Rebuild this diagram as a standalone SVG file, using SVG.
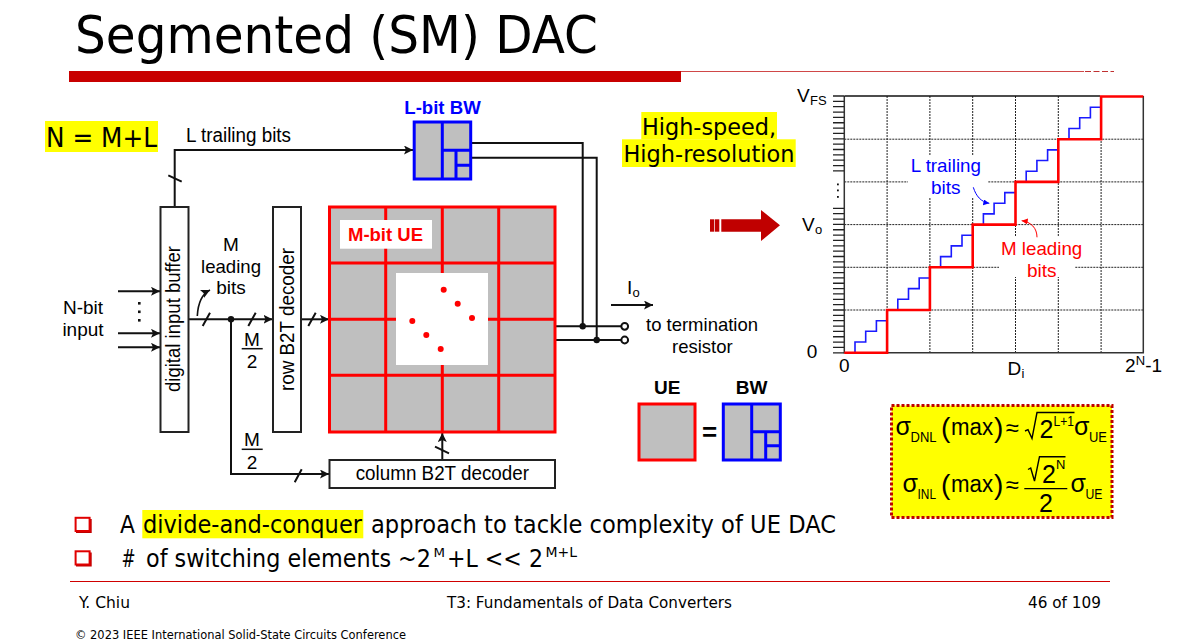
<svg xmlns="http://www.w3.org/2000/svg" width="1183" height="644" viewBox="0 0 1183 644">
<style>
.v{font-family:"DejaVu Sans","Liberation Sans",sans-serif;fill:#000}
.a{font-family:"Liberation Sans",Arial,sans-serif;fill:#000}
.b{font-weight:bold}
.c{text-anchor:middle}
.w{fill:#fff;stroke:#222;stroke-width:2}
.cell{fill:#bfbfbf;stroke:#f00;stroke-width:3}
.red{fill:none;stroke:#f00;stroke-width:3}
.blue{fill:none;stroke:#00f;stroke-width:3}
.wire{fill:none;stroke:#111;stroke-width:2}
.thin{fill:none;stroke:#111;stroke-width:1.6}
.grid{fill:none;stroke:#222;stroke-width:1;stroke-dasharray:2 1}
</style>
<defs>
<marker id="ah" markerUnits="userSpaceOnUse" markerWidth="10" markerHeight="10" refX="9" refY="4.5" orient="auto"><path d="M0 0L9 4.5L0 9L2 4.5Z" fill="#111"/></marker>
<marker id="ahb" markerUnits="userSpaceOnUse" markerWidth="7" markerHeight="7" refX="6" refY="3" orient="auto"><path d="M0 0L6 3L0 6Z" fill="#00f"/></marker>
<marker id="ahr" markerUnits="userSpaceOnUse" markerWidth="7" markerHeight="7" refX="6" refY="3" orient="auto"><path d="M0 0L6 3L0 6Z" fill="#f00"/></marker>
</defs>
<rect width="1183" height="644" fill="#fff"/>

<g id="header">
<text class="v" x="75" y="53" font-size="51" textLength="523" lengthAdjust="spacingAndGlyphs">Segmented (SM) DAC</text>
<rect x="69" y="71" width="612" height="11" fill="#c80000"/>
<path d="M681 71.5H1084" stroke="#d04848" stroke-width="1.2"/>
<path d="M1085 71.5H1114" stroke="#c03030" stroke-width="1.2" stroke-dasharray="6 2.5"/>
</g>

<g id="equation-n">
<rect x="45" y="121" width="113" height="31" fill="#ff0"/>
<text class="v" x="46" y="147" font-size="27" textLength="111" lengthAdjust="spacingAndGlyphs">N = M+L</text>
</g>

<g id="l-trailing-label">
<text class="a" x="186" y="141.7" font-size="19.5" textLength="105" lengthAdjust="spacingAndGlyphs">L trailing bits</text>
</g>

<g id="connectors">
<path class="wire" d="M174.7 207V150H413" marker-end="url(#ah)"/>
<path class="wire" d="M118 291.3H160" marker-end="url(#ah)"/>
<path class="wire" d="M118 333.3H160" marker-end="url(#ah)"/>
<path class="wire" d="M118 347.3H160" marker-end="url(#ah)"/>
<path class="wire" d="M189 319.3H272.5" marker-end="url(#ah)"/>
<path class="wire" d="M301 319.3H329" marker-end="url(#ah)"/>
<path class="wire" d="M231 319.3V474H329" marker-end="url(#ah)"/>
<path class="wire" d="M442.3 460V433" marker-end="url(#ah)"/>
<path class="wire" d="M168.3 175.3L181.7 181.7M202.7 326L210 312.7M248.3 326L255.7 312.7M308.3 326L315.7 312.7M294.7 482.3L301.7 469.3M435 446.7L449 453.3"/>
<circle cx="231" cy="319.3" r="3.2" fill="#111"/>
<path class="thin" d="M197.3 316C198 303 202 294 210 290" marker-end="url(#ah)"/>
<path class="wire" d="M471 143H582.7V326.3"/>
<path class="wire" d="M471 157.7H596.7V340"/>
<path class="wire" d="M555 326.3H621M555 340H621"/>
<circle cx="582.7" cy="326.3" r="3.2" fill="#111"/>
<circle cx="596.7" cy="340" r="3.2" fill="#111"/>
<circle cx="624.7" cy="326.3" r="3.4" fill="#fff" stroke="#111" stroke-width="2"/>
<circle cx="624.7" cy="340" r="3.4" fill="#fff" stroke="#111" stroke-width="2"/>
<path class="wire" d="M611 305H653" marker-end="url(#ah)"/>
</g>

<g id="n-bit-input">
<text class="a c" x="83" y="314" font-size="19">N-bit</text>
<text class="a c" x="83" y="336" font-size="19">input</text>
<rect x="138" y="302" width="2.6" height="2.6" fill="#111"/>
<rect x="138" y="310.5" width="2.6" height="2.6" fill="#111"/>
<rect x="138" y="319" width="2.6" height="2.6" fill="#111"/>
</g>

<g id="digital-input-buffer">
<rect class="w" x="160.5" y="207" width="28" height="225"/>
<text class="a" font-size="20" transform="translate(180 392) rotate(-90)" textLength="146" lengthAdjust="spacingAndGlyphs">digital input buffer</text>
</g>

<g id="m-leading-bits">
<text class="a c" x="231" y="251" font-size="19">M</text>
<text class="a c" x="231" y="272.7" font-size="19" textLength="60" lengthAdjust="spacingAndGlyphs">leading</text>
<text class="a c" x="231" y="294" font-size="19">bits</text>
</g>

<g id="m-half-row">
<text class="a c" x="252" y="345.5" font-size="19">M</text>
<path d="M241.7 348.7H262.7" stroke="#111" stroke-width="1.5"/>
<text class="a c" x="252" y="368" font-size="19">2</text>
</g>
<g id="m-half-col">
<text class="a c" x="252" y="446" font-size="19">M</text>
<path d="M241.7 449.3H262.7" stroke="#111" stroke-width="1.5"/>
<text class="a c" x="252" y="468.5" font-size="19">2</text>
</g>

<g id="row-decoder">
<rect class="w" x="273" y="207" width="28" height="225"/>
<text class="a" font-size="20" transform="translate(294 391) rotate(-90)" textLength="143" lengthAdjust="spacingAndGlyphs">row B2T decoder</text>
</g>

<g id="column-decoder">
<rect class="w" x="329.5" y="460" width="225.5" height="28"/>
<text class="a" x="355.7" y="480" font-size="20" textLength="173.3" lengthAdjust="spacingAndGlyphs">column B2T decoder</text>
</g>

<g id="m-bit-ue-array">
<rect class="cell" x="329.5" y="207" width="225.5" height="225"/>
<path class="red" d="M385.7 207V432M442.3 207V432M498.7 207V432M329.5 263H555M329.5 319.3H555M329.5 375.3H555"/>
<rect x="340" y="220" width="92" height="28.7" fill="#fff"/>
<text class="a b" x="348" y="240.7" font-size="19" style="fill:#f00" textLength="75" lengthAdjust="spacingAndGlyphs">M-bit UE</text>
<rect x="396" y="273" width="92" height="92" fill="#fff"/>
<g fill="#f00">
<circle cx="443.7" cy="289.7" r="3"/><circle cx="457.7" cy="303.7" r="3"/><circle cx="472" cy="318" r="3"/>
<circle cx="412.3" cy="321" r="3"/><circle cx="426.3" cy="335" r="3"/><circle cx="440.7" cy="349" r="3"/>
</g>
</g>

<g id="l-bit-bw">
<text class="a b" x="404.3" y="114" font-size="19" style="fill:#00f" textLength="76.4" lengthAdjust="spacingAndGlyphs">L-bit BW</text>
<rect x="414.2" y="122" width="56.5" height="57" fill="#bfbfbf" stroke="#00f" stroke-width="3"/>
<path class="blue" d="M442.3 122V179M442.3 150.3H470.7M456 150.3V179M456 165.3H470.7"/>
</g>

<g id="high-speed">
<rect x="641.3" y="112" width="135.7" height="27.4" fill="#ff0"/>
<rect x="622" y="139.3" width="173.7" height="27.7" fill="#ff0"/>
<text class="v" x="642" y="135" font-size="23" textLength="134" lengthAdjust="spacingAndGlyphs">High-speed,</text>
<text class="v" x="623.5" y="161.7" font-size="23" textLength="171" lengthAdjust="spacingAndGlyphs">High-resolution</text>
</g>

<g id="block-arrow" fill="#c00000">
<rect x="710" y="219.3" width="4.3" height="12.4"/>
<rect x="715" y="219.3" width="4.3" height="12.4"/>
<path d="M721.3 219.3H761V210L780 225.3L761 241V231.7H721.3Z"/>
</g>

<g id="output-label">
<text class="a" x="627" y="294" font-size="19">I</text>
<text class="a" x="632.5" y="297" font-size="13">o</text>
<text class="a" x="646" y="330.7" font-size="19" textLength="112" lengthAdjust="spacingAndGlyphs">to termination</text>
<text class="a" x="672" y="353.3" font-size="19" textLength="60.7" lengthAdjust="spacingAndGlyphs">resistor</text>
</g>

<g id="ue-equals-bw">
<text class="a b c" x="667.3" y="394" font-size="19">UE</text>
<text class="a b c" x="751.7" y="394" font-size="19">BW</text>
<rect class="cell" x="639" y="404" width="56" height="56"/>
<text class="a b c" x="709.5" y="441" font-size="26">=</text>
<rect x="723.3" y="404" width="57" height="56" fill="#bfbfbf" stroke="#00f" stroke-width="3"/>
<path class="blue" d="M751.7 404V460M751.7 431.7H780.3M765.7 431.7V460M765.7 445.7H780.3"/>
</g>

<g id="transfer-plot">
<path class="grid" d="M887.1 96V352.7M929.9 96V352.7M972.7 96V352.7M1015.5 96V352.7M1058.3 96V352.7M1101.1 96V352.7M844.3 139.2H1143M844.3 181.9H1143M844.3 224.6H1143M844.3 267.3H1143M844.3 310H1143"/>
<rect x="908" y="156" width="80" height="41" fill="#fff"/>
<rect x="999" y="237" width="76" height="40" fill="#fff"/>
<path fill="none" stroke="#333" stroke-width="1.5" d="M844.3 96V352.7H1143.3V96"/>
<path fill="none" stroke="#111" stroke-width="1.5" d="M844.3 96H1100"/>
<path fill="none" stroke="#222" stroke-width="1.3" d="M833 96H844M833 101.35H844M833 106.7H844M833 112.05H844M833 117.4H844M833 122.75H844M833 128.1H844M833 133.45H844M833 138.8H844M833 144.15H844M833 149.5H844M833 154.85H844M833 160.2H844M833 165.55H844M833 170.9H844M833 208.35H844M833 213.7H844M833 219.05H844M833 224.4H844M833 229.75H844M833 235.1H844M833 240.45H844M833 245.8H844M833 251.15H844M833 256.5H844M833 261.85H844M833 267.2H844M833 272.55H844M833 277.9H844M833 283.25H844M833 288.6H844M833 293.95H844M833 299.3H844M833 304.65H844M833 310H844M833 315.35H844M833 320.7H844M833 326.05H844M833 331.4H844M833 336.75H844M833 342.1H844M833 347.45H844M833 352.8H844"/>
<rect x="837" y="183.5" width="1.8" height="1.8" fill="#111"/>
<rect x="837" y="189.5" width="1.8" height="1.8" fill="#111"/>
<rect x="837" y="196" width="1.8" height="1.8" fill="#111"/>
<path fill="none" stroke="#1a1aff" stroke-width="1.6" d="M855 352.7V342H865.7V331.3H876.4V320.7H887.1M897.8 310V299.3H908.5V288.6H919.2V278H929.9M940.6 267.3V256.6H951.3V245.9H962V235.3H972.7M983.4 224.6V213.9H994.1V203.2H1004.8V192.6H1015.5M1026.2 181.9V171.2H1036.9V160.5H1047.6V149.9H1058.3M1069 139.2V128.5H1079.7V117.8H1090.4V107.2H1101.1"/>
<path fill="none" stroke="#f00" stroke-width="2.6" d="M844.3 352.7H887.1V310H929.9V267.3H972.7V224.6H1015.5V181.9H1058.3V139.2H1101.1V96.5H1143.3"/>
<text class="a" x="797" y="102" font-size="19">V</text>
<text class="a" x="810" y="104.5" font-size="13">FS</text>
<text class="a" x="802" y="231" font-size="19">V</text>
<text class="a" x="815" y="234" font-size="13">o</text>
<text class="a" x="806.7" y="358" font-size="19">0</text>
<text class="a" x="839" y="371.7" font-size="19">0</text>
<text class="a" x="1007.5" y="375" font-size="19">D</text>
<text class="a" x="1021.5" y="378" font-size="13">i</text>
<text class="a" x="1125" y="371.7" font-size="19">2</text>
<text class="a" x="1135.8" y="365" font-size="13">N</text>
<text class="a" x="1145.3" y="371.7" font-size="19">-1</text>
<text class="a" x="910.7" y="171.7" font-size="19" style="fill:#00f" textLength="70.3" lengthAdjust="spacingAndGlyphs">L trailing</text>
<text class="a c" x="945.7" y="194" font-size="19" style="fill:#00f">bits</text>
<path fill="none" stroke="#00f" stroke-width="1" d="M973.3 187.3C976 196 981 202 989.3 203.3" marker-end="url(#ahb)"/>
<text class="a" x="1001" y="255" font-size="19" style="fill:#f00" textLength="81.3" lengthAdjust="spacingAndGlyphs">M leading</text>
<text class="a c" x="1041.7" y="277.3" font-size="19" style="fill:#f00">bits</text>
<path fill="none" stroke="#f00" stroke-width="1" d="M1037 237.3C1037 228 1031 222 1021.7 220.7" marker-end="url(#ahr)"/>
</g>

<g id="formula-box">
<rect x="891.5" y="405.5" width="220.5" height="112" fill="#ff0" stroke="#c00000" stroke-width="3" stroke-dasharray="3 2"/>
<text class="a" x="895.5" y="435" font-size="25">σ</text>
<text class="a" x="910.5" y="441.5" font-size="14" textLength="26" lengthAdjust="spacingAndGlyphs">DNL</text>
<text class="a" x="941" y="437" font-size="28">(</text>
<text class="a" x="951" y="435" font-size="23" textLength="42" lengthAdjust="spacingAndGlyphs">max</text>
<text class="a" x="994" y="437" font-size="28">)</text>
<text class="a" x="1005.5" y="436" font-size="24">≈</text>
<path fill="none" stroke="#000" stroke-width="1.4" d="M1025 431L1028 429.7L1032 438.5L1037 412.5H1074.5"/>
<text class="a" x="1039.5" y="437.5" font-size="25">2</text>
<text class="a" x="1053.5" y="425.5" font-size="14" textLength="20.5" lengthAdjust="spacingAndGlyphs">L+1</text>
<text class="a" x="1074" y="435" font-size="25">σ</text>
<text class="a" x="1089" y="441.5" font-size="14" textLength="18" lengthAdjust="spacingAndGlyphs">UE</text>
<text class="a" x="902.5" y="491.7" font-size="25">σ</text>
<text class="a" x="917.5" y="498.5" font-size="14" textLength="18.5" lengthAdjust="spacingAndGlyphs">INL</text>
<text class="a" x="941" y="493.5" font-size="28">(</text>
<text class="a" x="951" y="491.7" font-size="23" textLength="42" lengthAdjust="spacingAndGlyphs">max</text>
<text class="a" x="994" y="493.5" font-size="28">)</text>
<text class="a" x="1005.5" y="492.5" font-size="24">≈</text>
<path fill="none" stroke="#000" stroke-width="1.4" d="M1028 469.5L1030.7 468L1034.5 481L1039.5 456.7H1065.5"/>
<text class="a" x="1042" y="483" font-size="25">2</text>
<text class="a" x="1056" y="469" font-size="13">N</text>
<path d="M1024.3 488.7H1067.3" stroke="#000" stroke-width="1.3"/>
<text class="a" x="1039" y="512" font-size="25">2</text>
<text class="a" x="1070.5" y="491.7" font-size="25">σ</text>
<text class="a" x="1085.5" y="498.5" font-size="14" textLength="17" lengthAdjust="spacingAndGlyphs">UE</text>
</g>

<g id="bullets">
<rect x="76" y="519" width="15.7" height="14" fill="#c00000"/>
<rect x="75.6" y="517.8" width="14" height="13.2" fill="#fff" stroke="#e00000" stroke-width="2"/>
<rect x="76" y="552.5" width="15.7" height="14" fill="#c00000"/>
<rect x="75.6" y="551.3" width="14" height="13.2" fill="#fff" stroke="#e00000" stroke-width="2"/>
<rect x="142.3" y="510" width="221" height="28.3" fill="#ff0"/>
<text class="v" transform="translate(120 532.7) scale(.91 1)" font-size="24">A</text>
<text class="v" transform="translate(143 532.7) scale(.84 1)" font-size="24" textLength="260.7" lengthAdjust="spacingAndGlyphs">divide-and-conquer</text>
<text class="v" transform="translate(371 532.7) scale(.84 1)" font-size="24" textLength="553.6" lengthAdjust="spacingAndGlyphs">approach to tackle complexity of UE DAC</text>
<text class="v" transform="translate(121.5 566.7) scale(.7 1)" font-size="24">#</text>
<text class="v" transform="translate(146 566.7) scale(.84 1)" font-size="24" textLength="339.3" lengthAdjust="spacingAndGlyphs">of switching elements ~2</text>
<text class="v" x="433.5" y="557" font-size="13" textLength="11.5" lengthAdjust="spacingAndGlyphs">M</text>
<text class="v" transform="translate(447 566.7) scale(.92 1)" font-size="24" textLength="104.3" lengthAdjust="spacingAndGlyphs">+L &lt;&lt; 2</text>
<text class="v" x="545.5" y="557" font-size="13.5" textLength="31.5" lengthAdjust="spacingAndGlyphs">M+L</text>
</g>

<g id="footer">
<path d="M70 581.5H1110" stroke="#d00000" stroke-width="1"/>
<text class="v" x="79" y="608" font-size="15" textLength="51" lengthAdjust="spacingAndGlyphs">Y. Chiu</text>
<text class="v" x="447" y="608" font-size="15" textLength="285" lengthAdjust="spacingAndGlyphs">T3: Fundamentals of Data Converters</text>
<text class="v" x="1028" y="608" font-size="15" textLength="73" lengthAdjust="spacingAndGlyphs">46 of 109</text>
<text class="v" x="75" y="639" font-size="11.5" textLength="331" lengthAdjust="spacingAndGlyphs">© 2023 IEEE International Solid-State Circuits Conference</text>
</g>
</svg>
